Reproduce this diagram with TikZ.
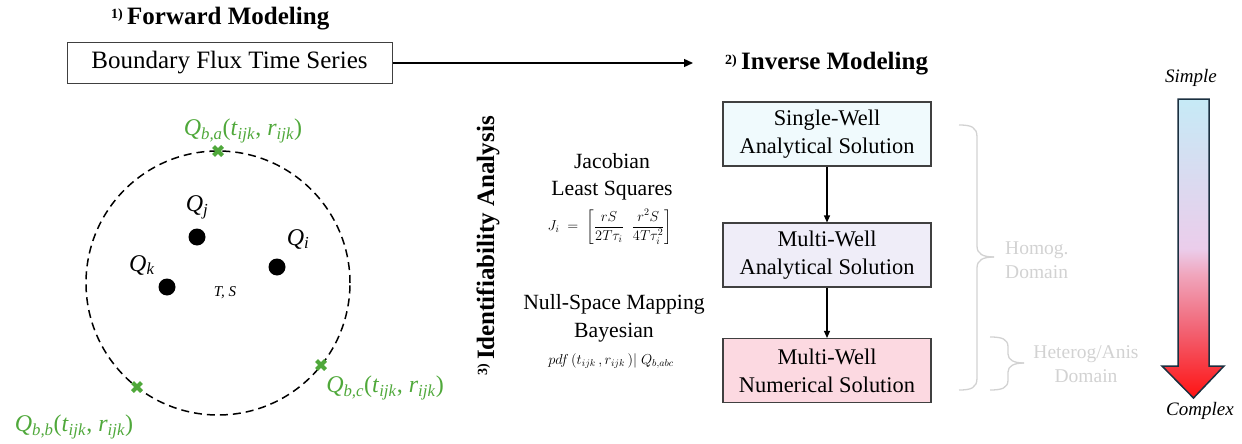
\documentclass[tikz,border=0pt]{standalone}
\usepackage{amsmath}
\usepackage{fontspec}
\setmainfont{Liberation Serif}
\usetikzlibrary{arrows.meta}
\definecolor{grn}{HTML}{4FA83A}
\definecolor{boxedge}{HTML}{404040}
\definecolor{fillA}{HTML}{F0FAFD}
\definecolor{fillB}{HTML}{EFEDF8}
\definecolor{fillC}{HTML}{FCD9E1}
\definecolor{lightgray}{HTML}{D2D2D2}
\definecolor{arredge}{HTML}{1B3040}
\definecolor{gTop}{HTML}{C6EAF6}
\definecolor{gMid}{HTML}{EBCDEB}
\definecolor{gPink}{HTML}{F0A5BC}
\definecolor{gRose}{HTML}{F26070}
\definecolor{gRed}{HTML}{FF1212}
\pgfdeclareverticalshading{arrowgrad}{100bp}{color(0bp)=(gRed); color(25bp)=(gRed); color(36bp)=(gRose); color(45.6bp)=(gPink); color(50bp)=(gMid); color(75bp)=(gTop); color(100bp)=(gTop)}
\newcommand{\Qsub}[1]{\textit{Q}\textsubscript{\textit{#1}}}
\newcommand{\tr}{(\textit{t}\textsubscript{\textit{ijk}}, \textit{r}\textsubscript{\textit{ijk}})}
\begin{document}
\begin{tikzpicture}[x=1pt,y=-1pt,
  title/.style={font=\fontsize{25}{30}\selectfont\bfseries, inner sep=0pt, anchor=base west},
  supnum/.style={font=\fontsize{14}{14}\selectfont\bfseries},
  fluxbox/.style={draw=boxedge, line width=1pt, minimum width=325pt, minimum height=40pt, inner sep=0pt, font=\fontsize{25}{30}\selectfont},
  stagebox/.style={draw=boxedge, line width=1.1pt, minimum width=208pt, minimum height=64pt, inner sep=0pt, align=center, font=\fontsize{22.4}{28}\selectfont},
  conn/.style={line width=1.2pt, -{Triangle[length=7pt,width=6pt]}},
  mainarr/.style={line width=1.4pt, -{Triangle[length=9pt,width=8pt]}},
  well/.style={circle, fill=black, inner sep=0pt, minimum size=17pt},
  qlbl/.style={font=\fontsize{24}{28}\selectfont, inner sep=0pt},
  glbl/.style={font=\fontsize{24}{28}\selectfont, inner sep=0pt, text=grn},
  xmark/.style={draw=grn, line width=4pt},
  midtext/.style={align=center, inner sep=0pt, font=\fontsize{21.7}{27.5}\selectfont},
  greytext/.style={text=lightgray, inner sep=0pt, font=\fontsize{19.5}{23.5}\selectfont},
  brc/.style={draw=lightgray, line width=1.3pt},
  ends/.style={font=\fontsize{19}{22}\selectfont\itshape, inner sep=0pt}
]
\useasboundingbox (0,0) rectangle (1242,444);

% ---------- 1) Forward modeling ----------
\node[title] (fwdt) at (127,25) {Forward Modeling};
\node[supnum, anchor=base east, inner sep=0pt] (fwdn) at (123,19) {1)};
\node[fluxbox] (flux) at (229.5,63) {Boundary Flux Time Series};
\coordinate (arrend) at (693,63);
\draw[mainarr] (flux.east) -- (arrend);

% domain circle
\coordinate (ctr) at (218,283);
\draw[dashed, dash pattern=on 8pt off 5pt, line width=1.5pt] (ctr) circle[radius=132pt];
\coordinate (ba) at (218,151);
\coordinate (bb) at (137,387);
\coordinate (bc) at (321,365);
\foreach \p in {ba,bb,bc}{
  \draw[xmark, shift={(\p)}] (-4.5,-4.5) -- (4.5,4.5) (-4.5,4.5) -- (4.5,-4.5);
}
\node[glbl] (lba) at (243,131) {\Qsub{b,a}\tr};
\node[glbl] (lbb) at (74,427) {\Qsub{b,b}\tr};
\node[glbl] (lbc) at (385,388) {\Qsub{b,c}\tr};

\node[well] (wj) at (197,237) {};
\node[well] (wi) at (277,267) {};
\node[well] (wk) at (167,287) {};
\node[qlbl] (lj) at (197,207) {\Qsub{j}};
\node[qlbl] (li) at (298,239) {\Qsub{i}};
\node[qlbl] (lk) at (142,265) {\Qsub{k}};
\node[font=\fontsize{15}{18}\selectfont\itshape, inner sep=0pt] (ts) at (225,293) {T, S};

% ---------- 3) Identifiability ----------
\node[rotate=90, inner sep=0pt, font=\fontsize{25}{30}\selectfont\bfseries] (ida) at (488,246)
  {{\fontsize{14}{14}\selectfont\raisebox{7pt}{3)}}\,Identifiability Analysis};
\node[midtext] (jls) at (612,177) {Jacobian\\Least Squares};
\node[inner sep=0pt, font=\fontsize{14.4}{16}\selectfont] (jform) at (610,227)
  {$\displaystyle J_i \;=\; \left[\frac{rS}{2T\tau_i}\;\;\frac{r^2S}{4T\tau_i^2}\right]$};
\node[midtext] (nsm) at (614,318.5) {Null-Space Mapping\\Bayesian};
\node[inner sep=0pt, font=\fontsize{14.4}{16}\selectfont] (pdf) at (611,361)
  {$pdf\,(t_{ijk}\,, r_{ijk}\,)|\;Q_{b,abc}$};

% ---------- 2) Inverse modeling ----------
\node[title] (invt) at (741,70) {Inverse Modeling};
\node[supnum, anchor=base east, inner sep=0pt] (invn) at (737,64) {2)};
\node[stagebox, fill=fillA] (s1) at (827,134) {Single-Well\\Analytical Solution};
\node[stagebox, fill=fillB] (s2) at (827,255) {Multi-Well\\Analytical Solution};
\node[stagebox, fill=fillC] (s3) at (827,370.5) {Multi-Well\\Numerical Solution};
\draw[conn] (s1) -- (s2);
\draw[conn] (s2) -- (s3);

% braces
\draw[brc] (959,125) .. controls (971,125) and (977,127) .. (977,137) -- (977,246)
  .. controls (977,254) and (983,257) .. (994,257);
\draw[brc] (994,257) .. controls (983,257) and (977,260) .. (977,268) -- (977,378)
  .. controls (977,388) and (971,390) .. (959,390);
\draw[brc] (990,337) .. controls (1002,337) and (1008,339) .. (1008,347) -- (1008,354)
  .. controls (1008,360) and (1014,363) .. (1024,363);
\draw[brc] (1024,363) .. controls (1014,363) and (1008,366) .. (1008,372) -- (1008,380)
  .. controls (1008,388) and (1002,390) .. (990,390);
\node[greytext, align=left, anchor=west] (hom) at (1005,260) {Homog.\\Domain};
\node[greytext, align=center] (het) at (1086,364) {Heterog/Anis\\Domain};

% complexity arrow
\shadedraw[shading=arrowgrad, draw=arredge, line width=1.5pt, line join=miter]
  (1178,99) -- (1209,99) -- (1209,366) -- (1224,366) -- (1193.5,398) -- (1162,366) -- (1178,366) -- cycle;
\node[ends] (simple) at (1191,78) {Simple};
\node[ends] (complex) at (1200,411) {Complex};
\end{tikzpicture}
\end{document}
